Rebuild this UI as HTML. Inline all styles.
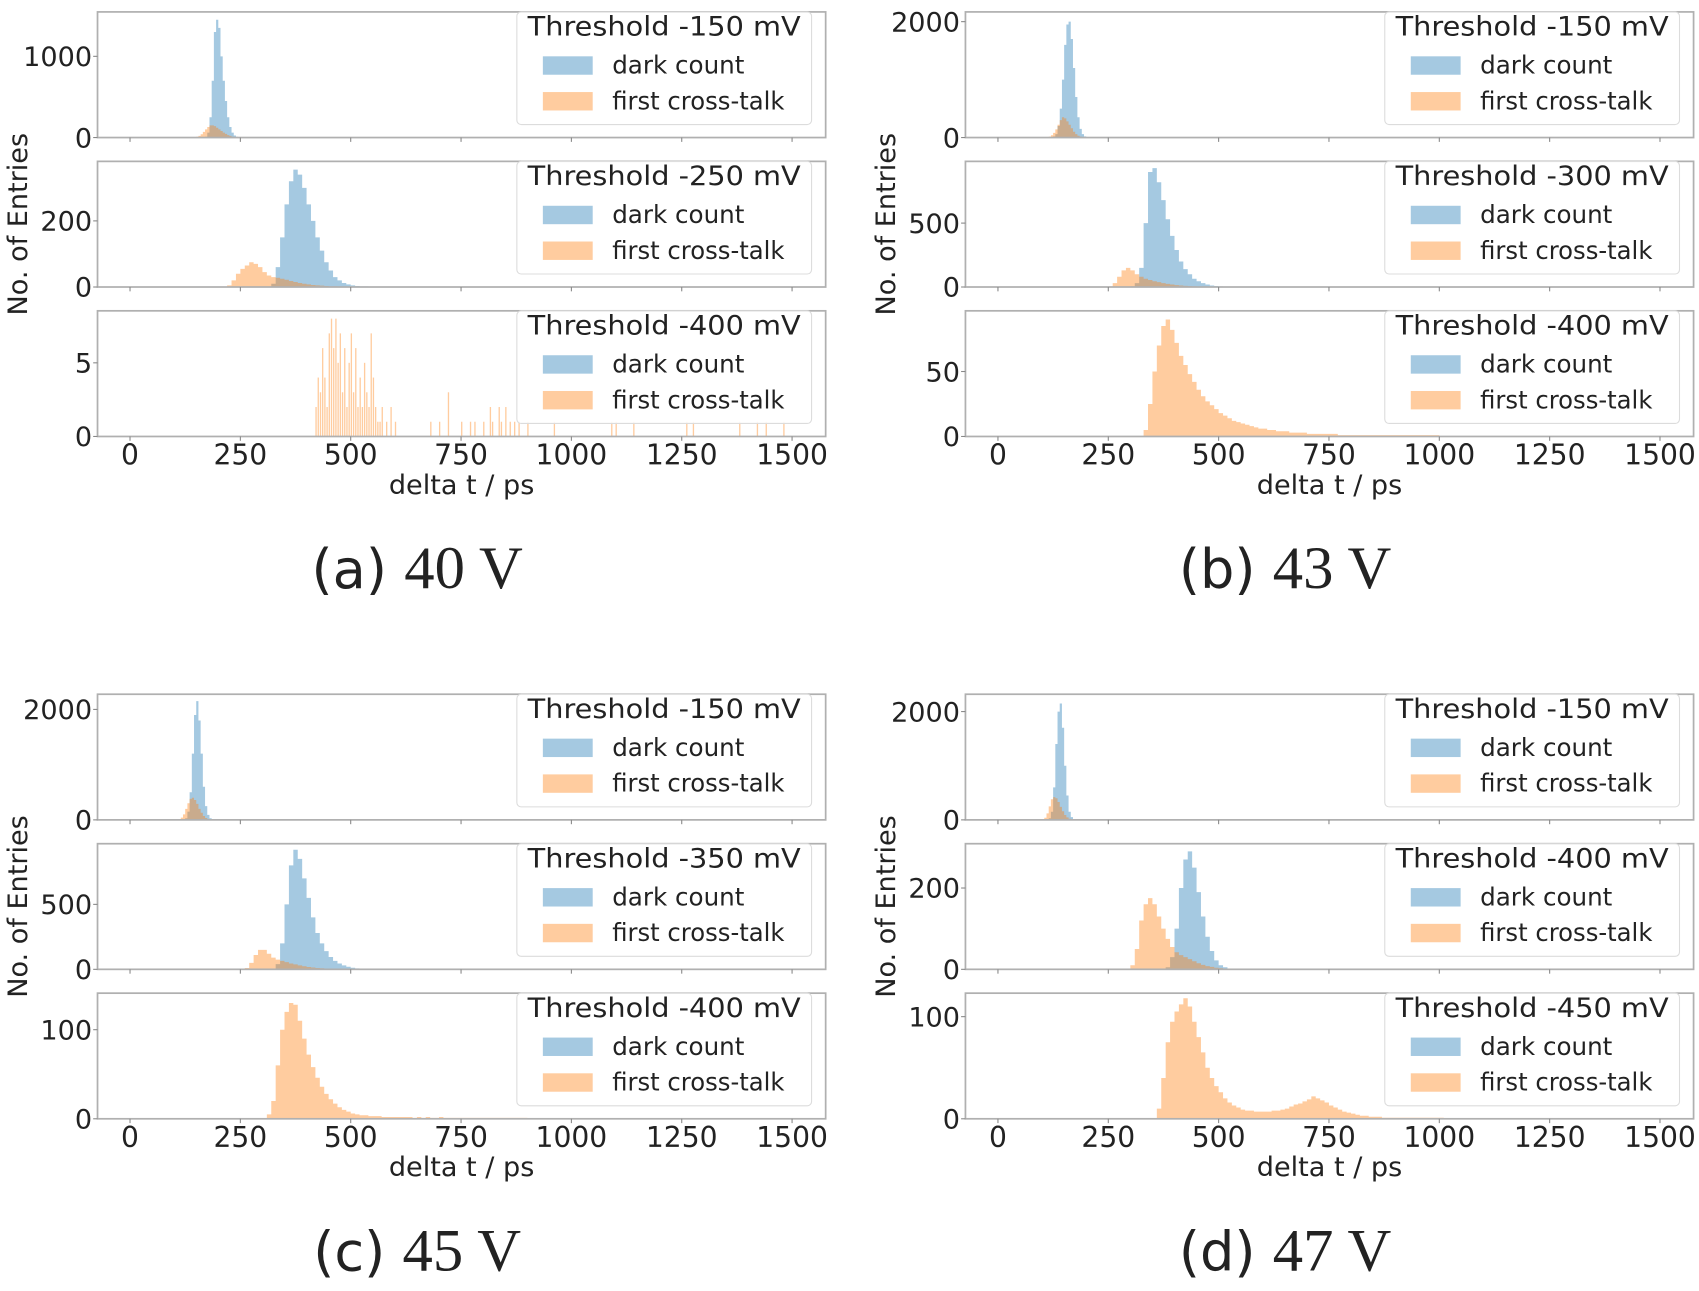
<!DOCTYPE html>
<html><head><meta charset="utf-8">
<style>
html,body{margin:0;padding:0;background:#fff;}
svg{display:block;}
text{font-family:"DejaVu Sans","Liberation Sans",sans-serif;fill:#222;}
</style></head>
<body>
<svg id="fig" width="1699" height="1291" viewBox="0 0 1568 1192" preserveAspectRatio="none" xmlns="http://www.w3.org/2000/svg"></svg>
<script>
// ---- data (counts per bin) ----
const xTicks = [0, 250, 500, 750, 1000, 1250, 1500];
// panel a, 40 V
const a1Start = 150, a1Bin = 5;
const a1Dark = [0,0,0,0,10,60,250,700,1300,1450,1350,1000,700,450,250,130,60,25,10,5,2];
const a1Cross = [10,20,40,70,100,130,150,150,140,120,100,80,60,45,30,20,12,8,5,2,1];
const a2Start = 220, a2Bin = 10;
const a2Dark = [0,0,0,0,0,0,0,0,0,0,10,60,150,250,320,355,340,300,250,200,150,110,75,50,30,20,12,8,5,3,2,2,1,1,1,1,0,0];
const a2Cross = [5,20,40,55,65,75,70,60,45,35,30,28,25,22,18,15,12,10,8,6,5,4,3,2,2,1,1,1,1];
const a3Times = [420,425,430,435,440,445,450,455,460,465,470,475,480,485,490,495,500,505,510,515,520,525,530,535,540,545,550,555,560,565,570,580,590,600,680,700,720,750,770,780,800,815,820,835,840,850,860,870,880,900,960,1090,1100,1140,1260,1275,1380,1420,1440,1480];
const a3Counts = [2,4,3,6,4,2,7,8,6,8,5,7,3,6,2,5,7,3,6,2,4,2,5,3,2,7,4,2,1,1,2,1,2,1,1,1,3,1,1,1,1,2,1,2,1,2,1,1,1,1,1,1,1,1,1,1,1,1,1,1];
// panel b, 43 V
const b1Start = 110, b1Bin = 5;
const b1Dark = [0,0,5,20,60,200,500,1000,1600,1950,2000,1700,1200,700,350,150,60,20,8,3];
const b1Cross = [5,15,40,80,140,220,300,350,330,280,220,160,100,60,30,15,6,2,1,0];
const b2Start = 250, b2Bin = 10;
const b2Dark = [0,0,0,0,0,5,30,150,500,900,930,820,680,530,400,290,200,140,100,65,45,30,20,12,8,5,3,2,1];
const b2Cross = [5,30,80,130,150,130,100,80,65,55,45,38,30,25,20,15,12,9,7,5,4,3,2,2,1,1,1,1,1];
const b3Start = 330, b3Bin = 10;
const b3Dark = [];
const b3Cross = [5,25,50,70,85,90,82,72,62,55,48,42,36,31,27,24,21,18,16,14,12,11,10,9,8,7,6,6,5,5,4,4,4,3,3,3,3,2,2,2,2,2,2,2,1,1,1,1,1,1,1,1,1,1,1,1,1,1,1,1,1,1,1,1,1,1,1];
// panel c, 45 V
const c1Start = 110, c1Bin = 5;
const c1Dark = [0,0,5,30,150,500,1200,1900,2150,1800,1200,600,250,90,30,10,3];
const c1Cross = [10,40,100,200,300,380,400,360,290,200,130,70,35,15,6,2,1];
const c2Start = 260, c2Bin = 10;
const c2Dark = [0,0,0,0,0,0,5,40,200,500,800,920,850,700,550,400,280,200,140,95,65,45,30,20,12,7,4,2];
const c2Cross = [10,50,110,150,150,120,90,75,65,55,45,38,30,24,18,14,10,8,6,4,3,2,2,1,1,1,1,1];
const c3Start = 310, c3Bin = 10;
const c3Dark = [];
const c3Cross = [5,20,60,100,120,130,128,110,90,72,58,46,36,28,22,17,13,10,8,6,5,4,4,3,3,3,2,2,2,2,2,2,2,1,2,1,2,1,1,2,1,1,1,1,1,1,1,1,1,1,1,1,1,1,1,1,1,1,1];
// panel d, 47 V
const d1Start = 100, d1Bin = 5;
const d1Dark = [0,0,5,30,150,600,1400,2000,2150,1700,1000,450,150,50,15,5,2];
const d1Cross = [10,40,120,250,380,420,400,330,240,160,90,45,20,8,3,1,0];
const d2Start = 300, d2Bin = 10;
const d2Dark = [0,0,0,0,0,0,0,0,5,30,100,200,270,290,250,190,130,80,45,22,10,5,2,1];
const d2Cross = [10,50,120,160,175,160,130,100,75,55,42,35,30,25,20,15,11,8,6,4,3,2,2,2,1,1,1,1,1,1,1,1,1,1,1,1,1,1,1,1,1,1,1,1,1,1,1,1,1,1,1];
const d3Start = 360, d3Bin = 10;
const d3Dark = [];
const d3Cross = [10,40,75,95,105,112,118,110,95,80,65,50,40,32,26,20,16,13,11,9,8,8,7,7,7,7,8,8,9,10,12,14,15,17,19,22,20,18,16,13,11,9,7,6,5,4,3,3,2,2,2,1,1,1,1,1,1,1,1,1,1,1,1,1,1];

// ---- layout ----
const NS = "http://www.w3.org/2000/svg";
const svg = document.getElementById('fig');
function mk(tag, attrs, parent) {
  const e = document.createElementNS(NS, tag);
  for (const k in attrs) e.setAttribute(k, attrs[k]);
  (parent || svg).appendChild(e);
  return e;
}
const XL = 90, XR = 762, X0PX = 120, X1500PX = 731;
function xScale(ox, t) { return ox + X0PX + (t / 1500) * (X1500PX - X0PX); }

const panels = [
  {id:'a', ox:0, oy:0, cap:'(a)', volt:'40 V', subs:[
    {top:11, bot:127, ymax:1547, ticks:[0,1000], thr:'-150', s:a1Start, bw:a1Bin, dark:a1Dark, cross:a1Cross},
    {top:149, bot:265, ymax:380, ticks:[0,200], thr:'-250', s:a2Start, bw:a2Bin, dark:a2Dark, cross:a2Cross},
    {top:287, bot:403, ymax:8.53, ticks:[0,5], thr:'-400', spikes:true}]},
  {id:'b', ox:801, oy:0, cap:'(b)', volt:'43 V', subs:[
    {top:11, bot:127, ymax:2168, ticks:[0,2000], thr:'-150', s:b1Start, bw:b1Bin, dark:b1Dark, cross:b1Cross},
    {top:149, bot:265, ymax:983, ticks:[0,500], thr:'-300', s:b2Start, bw:b2Bin, dark:b2Dark, cross:b2Cross},
    {top:287, bot:403, ymax:96.7, ticks:[0,50], thr:'-400', s:b3Start, bw:b3Bin, dark:b3Dark, cross:b3Cross}]},
  {id:'c', ox:0, oy:630, cap:'(c)', volt:'45 V', subs:[
    {top:11, bot:127, ymax:2275, ticks:[0,2000], thr:'-150', s:c1Start, bw:c1Bin, dark:c1Dark, cross:c1Cross},
    {top:149, bot:265, ymax:967, ticks:[0,500], thr:'-350', s:c2Start, bw:c2Bin, dark:c2Dark, cross:c2Cross},
    {top:287, bot:403, ymax:141, ticks:[0,100], thr:'-400', s:c3Start, bw:c3Bin, dark:c3Dark, cross:c3Cross}]},
  {id:'d', ox:801, oy:630, cap:'(d)', volt:'47 V', subs:[
    {top:11, bot:127, ymax:2320, ticks:[0,2000], thr:'-150', s:d1Start, bw:d1Bin, dark:d1Dark, cross:d1Cross},
    {top:149, bot:265, ymax:309, ticks:[0,200], thr:'-400', s:d2Start, bw:d2Bin, dark:d2Dark, cross:d2Cross},
    {top:287, bot:403, ymax:123, ticks:[0,100], thr:'-450', s:d3Start, bw:d3Bin, dark:d3Dark, cross:d3Cross}]}
];

const BLUE = '#1f77b4', ORANGE = '#ff7f0e';

panels.forEach(p => {
  const g = mk('g', {});
  
  
  const ox = p.ox, oy = p.oy;
  p.subs.forEach((sp, si) => {
    const sg = mk('g', {}, g);
    
    
    const top = oy + sp.top, bot = oy + sp.bot;
    const yS = v => bot - (v / sp.ymax) * (bot - top);
    function hist(arr, start, bw, color, name) {
      if (!arr.length) return;
      let d = 'M' + xScale(ox, start) + ',' + bot;
      arr.forEach((v, i) => {
        const x0 = xScale(ox, start + i * bw), x1 = xScale(ox, start + (i + 1) * bw);
        d += ' L' + x0 + ',' + yS(v) + ' L' + x1 + ',' + yS(v);
      });
      d += ' L' + xScale(ox, start + arr.length * bw) + ',' + bot + ' Z';
      const path = mk('path', {d:d, fill:color, 'fill-opacity':0.4, stroke:'none'}, sg);
      
      
    }
    if (sp.spikes) {
      a3Times.forEach((t, i) => {
        const x0 = xScale(ox, t), x1 = xScale(ox, t + 3);
        const r = mk('rect', {x:x0, y:yS(a3Counts[i]), width:x1 - x0, height:bot - yS(a3Counts[i]), fill:ORANGE, 'fill-opacity':0.4}, sg);
        
        
      });
    } else {
      hist(sp.dark, sp.s, sp.bw, BLUE, 'dark-count-histogram');
      hist(sp.cross, sp.s, sp.bw, ORANGE, 'cross-talk-histogram');
    }
    const fr = mk('rect', {x:ox + XL, y:top, width:XR - XL, height:bot - top, fill:'none', stroke:'#b0b0b0', 'stroke-width':1.6}, sg);
    
    
    xTicks.forEach(t => {
      mk('line', {x1:xScale(ox, t), x2:xScale(ox, t), y1:bot, y2:bot + 4, stroke:'#888', 'stroke-width':1}, sg);
    });
    sp.ticks.forEach(v => {
      mk('line', {x1:ox + XL - 4, x2:ox + XL, y1:yS(v), y2:yS(v), stroke:'#888', 'stroke-width':1}, sg);
      const tx = mk('text', {x:ox + XL - 5, y:yS(v) + 9, 'text-anchor':'end', 'font-size':25}, sg);
      tx.textContent = v;
      
      
    });
    const lg = mk('g', {}, sg);
    
    
    mk('rect', {x:ox + 477, y:top + 0, width:272, height:104, rx:4, fill:'#fff', 'fill-opacity':0.85, stroke:'#dcdcdc', 'stroke-width':1}, lg);
    const tt = mk('text', {x:ox + 613, y:top + 22, 'text-anchor':'middle', 'font-size':25, textLength:252, lengthAdjust:'spacingAndGlyphs'}, lg);
    tt.textContent = 'Threshold ' + sp.thr + ' mV';
    
    
    [['dark count', BLUE, 49, 122], ['first cross-talk', ORANGE, 82, 159]].forEach(([lab, col, dy, len]) => {
      mk('rect', {x:ox + 501, y:top + dy - 8, width:46, height:17, fill:col, 'fill-opacity':0.4}, lg);
      const lt = mk('text', {x:ox + 565, y:top + dy + 8, 'font-size':23, textLength:len, lengthAdjust:'spacingAndGlyphs'}, lg);
      lt.textContent = lab;
      
      
    });
    if (si === 2) {
      xTicks.forEach(t => {
        const tx = mk('text', {x:xScale(ox, t), y:bot + 26, 'text-anchor':'middle', 'font-size':26}, g);
        tx.textContent = t;
        
        
      });
    }
  });
  const xl = mk('text', {x:ox + 426, y:oy + 456, 'text-anchor':'middle', 'font-size':25}, g);
  xl.textContent = 'delta t / ps';
  
  
  const yl = mk('text', {x:0, y:0, 'text-anchor':'middle', 'font-size':25, transform:'translate(' + (ox + 25) + ',' + (oy + 207) + ') rotate(-90)'}, g);
  yl.textContent = 'No. of Entries';
  
  
  const cap = mk('text', {x:ox + 385, y:oy + 543, 'text-anchor':'middle', 'font-size':50}, g);
  
  
  const c1 = mk('tspan', {}, cap); c1.textContent = p.cap + ' ';
  const c2 = mk('tspan', {style:'font-family:"Liberation Serif",serif', 'font-size':56}, cap); c2.textContent = p.volt;
});
</script>
</body></html>
